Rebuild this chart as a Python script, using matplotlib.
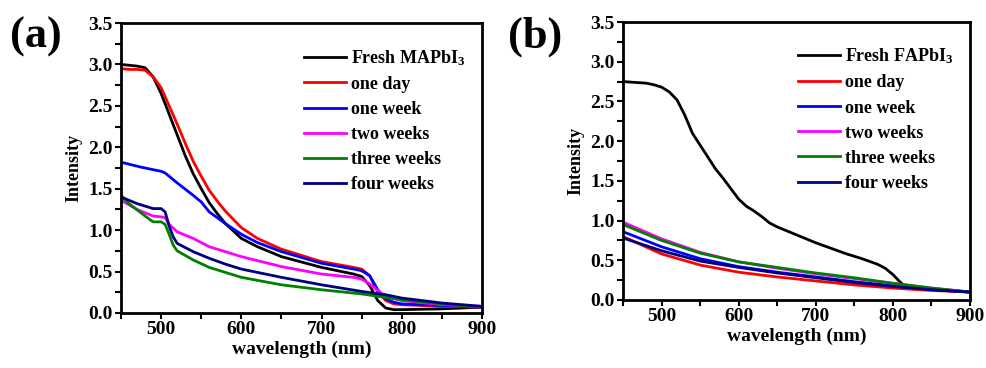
import matplotlib
matplotlib.use("Agg")
import matplotlib.pyplot as plt
from matplotlib.ticker import MultipleLocator

plt.rcParams['font.family'] = ['Liberation Serif', 'DejaVu Serif']
plt.rcParams['font.weight'] = 'bold'
plt.rcParams['mathtext.fontset'] = 'custom'
plt.rcParams['mathtext.rm'] = 'Liberation Serif:bold'
plt.rcParams['mathtext.default'] = 'rm'

labels_a = ["Fresh MAPbI$_3$", "one day", "one week", "two weeks", "three weeks", "four weeks"]
labels_b = ["Fresh FAPbI$_3$", "one day", "one week", "two weeks", "three weeks", "four weeks"]
colors = ["black", "red", "blue", "magenta", "green", "navy"]

# panel (a) MAPbI3
wl_fresh_a = [450, 460, 470, 480, 490, 500, 510, 520, 530, 540, 550, 560, 570, 580, 600, 620, 650,
              700, 740, 750, 760, 770, 780, 790, 800, 850, 900]
fresh_a = [3.0, 2.99, 2.98, 2.96, 2.85, 2.65, 2.40, 2.15, 1.90, 1.68, 1.50, 1.33, 1.20, 1.08, 0.90,
           0.80, 0.68, 0.55, 0.47, 0.44, 0.33, 0.15, 0.06, 0.04, 0.04, 0.05, 0.07]
wl_day_a = [450, 460, 470, 480, 490, 500, 510, 520, 530, 540, 550, 560, 570, 580, 600, 620, 650,
            700, 740, 750, 760, 770, 780, 790, 800, 850, 900]
day_a = [2.95, 2.94, 2.94, 2.93, 2.85, 2.72, 2.50, 2.28, 2.05, 1.83, 1.65, 1.48, 1.35, 1.23, 1.03,
         0.90, 0.77, 0.62, 0.55, 0.53, 0.45, 0.25, 0.15, 0.11, 0.10, 0.08, 0.07]
wl_week1_a = [450, 475, 500, 505, 510, 520, 540, 550, 560, 580, 600, 620, 650, 700, 740, 750, 760,
              770, 780, 790, 800, 850, 900]
week1_a = [1.82, 1.76, 1.71, 1.69, 1.65, 1.57, 1.42, 1.34, 1.22, 1.08, 0.95, 0.85, 0.74, 0.60,
           0.53, 0.51, 0.45, 0.28, 0.17, 0.13, 0.11, 0.09, 0.07]
wl_week2_a = [450, 470, 490, 500, 505, 510, 520, 540, 560, 580, 600, 650, 700, 740, 750, 760, 770,
              780, 800, 850, 900]
week2_a = [1.36, 1.25, 1.17, 1.16, 1.15, 1.07, 0.98, 0.90, 0.80, 0.74, 0.68, 0.56, 0.47, 0.43,
           0.41, 0.35, 0.27, 0.20, 0.15, 0.10, 0.08]
wl_week3_a = [450, 460, 480, 490, 500, 505, 510, 515, 520, 540, 560, 580, 600, 650, 700, 750, 800,
              850, 900]
week3_a = [1.42, 1.32, 1.17, 1.10, 1.10, 1.07, 0.95, 0.82, 0.75, 0.64, 0.55, 0.49, 0.43, 0.34,
           0.28, 0.23, 0.16, 0.11, 0.07]
wl_week4_a = [450, 470, 490, 500, 505, 510, 515, 520, 540, 560, 580, 600, 650, 700, 750, 780, 800,
              850, 900]
week4_a = [1.40, 1.32, 1.26, 1.26, 1.22, 1.05, 0.92, 0.84, 0.74, 0.66, 0.59, 0.53, 0.43, 0.34,
           0.26, 0.22, 0.18, 0.12, 0.08]

# panel (b) FAPbI3
wl_fresh_b = [450, 480, 490, 500, 510, 520, 530, 540, 550, 560, 570, 580, 590, 600, 610, 620, 630,
              640, 650, 670, 690, 700, 720, 740, 760, 780, 790, 800, 810, 815, 820, 850, 900]
fresh_b = [2.75, 2.73, 2.71, 2.68, 2.62, 2.52, 2.33, 2.10, 1.95, 1.80, 1.65, 1.53, 1.40, 1.27,
           1.18, 1.12, 1.05, 0.97, 0.92, 0.84, 0.76, 0.72, 0.65, 0.58, 0.52, 0.45, 0.40, 0.32,
           0.22, 0.18, 0.17, 0.14, 0.10]
wl_b = [450, 500, 550, 600, 650, 700, 750, 800, 850, 900]
day_b = [0.80, 0.58, 0.44, 0.35, 0.29, 0.24, 0.19, 0.15, 0.12, 0.10]
week1_b = [0.86, 0.67, 0.52, 0.42, 0.35, 0.29, 0.23, 0.18, 0.13, 0.10]
week2_b = [0.98, 0.77, 0.60, 0.48, 0.40, 0.33, 0.27, 0.21, 0.15, 0.10]
week3_b = [0.95, 0.75, 0.59, 0.48, 0.41, 0.34, 0.28, 0.21, 0.15, 0.10]
week4_b = [0.78, 0.62, 0.49, 0.41, 0.34, 0.28, 0.22, 0.17, 0.13, 0.10]

series_a = [(wl_fresh_a, fresh_a), (wl_day_a, day_a), (wl_week1_a, week1_a),
            (wl_week2_a, week2_a), (wl_week3_a, week3_a), (wl_week4_a, week4_a)]
series_b = [(wl_fresh_b, fresh_b), (wl_b, day_b), (wl_b, week1_b),
            (wl_b, week2_b), (wl_b, week3_b), (wl_b, week4_b)]

fig = plt.figure(figsize=(9.87, 3.68), dpi=100)
ax_a = fig.add_axes([0.1226, 0.1495, 0.3658, 0.788])
ax_b = fig.add_axes([0.6312, 0.1848, 0.3516, 0.7554])

for ax, series, labels in [(ax_a, series_a, labels_a), (ax_b, series_b, labels_b)]:
    for (x, y), c, lab in zip(series, colors, labels):
        ax.plot(x, y, color=c, lw=2, label=lab)
    ax.set_xlim(450, 900)
    ax.set_ylim(0, 3.5)
    ax.xaxis.set_major_locator(MultipleLocator(100))
    ax.xaxis.set_minor_locator(MultipleLocator(50))
    ax.yaxis.set_major_locator(MultipleLocator(0.5))
    ax.yaxis.set_minor_locator(MultipleLocator(0.25))
    ax.yaxis.set_major_formatter(matplotlib.ticker.FormatStrFormatter('%.1f'))
    ax.tick_params(which='both', direction='out', width=1.5, labelsize=14, pad=2)
    ax.tick_params(which='major', length=4)
    ax.tick_params(which='minor', length=4)
    for s in ax.spines.values():
        s.set_linewidth(2)
    ax.set_xlabel("wavelength (nm)", fontsize=14, fontweight='bold', labelpad=2)
    ax.set_ylabel("Intensity", fontsize=13, fontweight='bold', labelpad=4)
    ax.legend(loc='upper right', frameon=False, fontsize=13, handlelength=2.3,
              handletextpad=0.3, labelspacing=0.45, bbox_to_anchor=(1.0, 0.97))

fig.text(0.01, 0.87, "(a)", fontsize=32, fontweight='bold')
fig.text(0.515, 0.87, "(b)", fontsize=32, fontweight='bold')

fig.savefig("out.png", dpi=100)
